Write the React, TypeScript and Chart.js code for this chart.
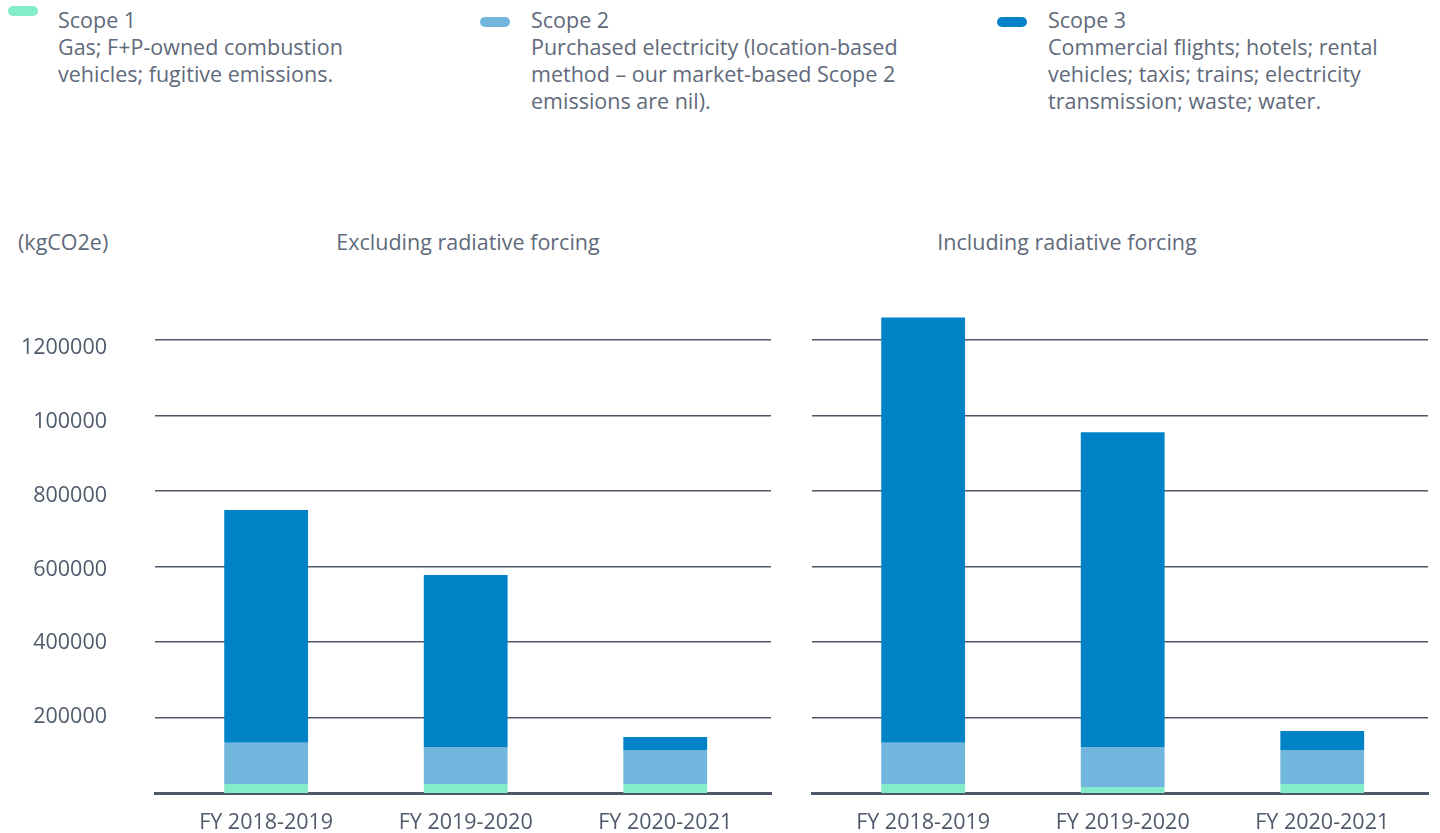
import React, { useEffect, useRef } from "react";
import { Chart, registerables } from "chart.js";

Chart.register(...registerables);

// ---- data ----
const categories = ["FY 2018-2019", "FY 2019-2020", "FY 2020-2021"];
const seriesNames = ["Scope 1", "Scope 2", "Scope 3"];
const seriesDescriptions = [
  ["Gas; F+P-owned combustion", "vehicles; fugitive emissions."],
  ["Purchased electricity (location-based", "method \u2013 our market-based Scope 2", "emissions are nil)."],
  ["Commercial flights; hotels; rental", "vehicles; taxis; trains; electricity", "transmission; waste; water."],
];
const seriesColors = ["#84EBCB", "#72B6DE", "#0082C6"];

const exclScope1 = [24000, 24000, 24000];
const exclScope2 = [109000, 98000, 90000];
const exclScope3 = [616000, 455000, 34000];

const inclScope1 = [24000, 16000, 24000];
const inclScope2 = [109000, 106000, 90000];
const inclScope3 = [1126000, 833000, 50000];

const tickValues = [200000, 400000, 600000, 800000, 1000000, 1200000];
const tickLabels = ["200000", "400000", "600000", "800000", "100000", "1200000"];

const unitLabel = "(kgCO2e)";
const panelTitles = ["Excluding radiative forcing", "Including radiative forcing"];

const FONT = "'Open Sans', 'Noto Sans', sans-serif";
const FS = 21.5;
const TEXT = "#5f6a7b";
const TICK = "#4f5a6c";
const GRID = "#4f5868";

Chart.defaults.font.family = FONT;

function buildConfig(s1: number[], s2: number[], s3: number[], withLabels: boolean, leftWidth: number, rightPad: number): any {
  const scales: any = {
    x: {
      stacked: true,
      grid: { display: false, drawTicks: false },
      border: { display: true, color: GRID, width: 3 },
      ticks: { color: TICK, font: { family: FONT, size: FS, weight: 400 }, padding: 17, maxRotation: 0 },
      afterBuildTicks: (s: any) => {
        s._startValue = -0.557;
        s._valueRange = 3.087;
      },
      afterFit: (s: any) => {
        s.height = 40;
        s.paddingLeft = 0;
        s.paddingRight = 0;
      },
    },
    y: {
      stacked: true,
      min: 0,
      max: 1300000,
      grid: { display: true, color: GRID, lineWidth: 1.5, drawTicks: false },
      border: { display: false },
      ticks: { display: false },
      afterBuildTicks: (s: any) => { s.ticks = tickValues.map((v) => ({ value: v })); },
      afterFit: (s: any) => {
        s.width = withLabels ? 0 : leftWidth;
        s.paddingTop = 0;
        s.paddingBottom = 0;
      },
    },
  };
  if (withLabels) {
    scales.yLabels = {
      position: "left",
      min: -5960,
      max: 1324660,
      grid: { display: false, drawTicks: false },
      border: { display: false },
      ticks: {
        color: TICK,
        font: { family: FONT, size: FS, weight: 400 },
        padding: 48,
        callback: (v: any) => {
          const i = tickValues.indexOf(Number(v));
          return i >= 0 ? tickLabels[i] : "";
        },
      },
      afterBuildTicks: (s: any) => { s.ticks = tickValues.map((v) => ({ value: v })); },
      afterFit: (s: any) => {
        s.width = leftWidth;
        s.paddingTop = 0;
        s.paddingBottom = 0;
      },
    };
  }
  const mk = (label: string, data: number[], color: string) => ({
    label,
    data,
    backgroundColor: color,
    borderWidth: 0,
    categoryPercentage: 1,
    barPercentage: 0.42,
  });
  return {
    type: "bar",
    data: {
      labels: categories,
      datasets: [
        mk(seriesNames[0], s1, seriesColors[0]),
        mk(seriesNames[1], s2, seriesColors[1]),
        mk(seriesNames[2], s3, seriesColors[2]),
      ],
    },
    options: {
      responsive: false,
      animation: false,
      layout: { padding: { top: 12, right: rightPad, left: 0, bottom: 0 } },
      plugins: { legend: { display: false }, tooltip: { enabled: false }, title: { display: false } },
      scales,
    },
  };
}

function Panel(props: { s1: number[]; s2: number[]; s3: number[]; withLabels: boolean; left: number; width: number; leftWidth: number; rightPad: number }) {
  const ref = useRef<HTMLCanvasElement>(null);
  useEffect(() => {
    if (!ref.current) return;
    const chart = new Chart(ref.current, buildConfig(props.s1, props.s2, props.s3, props.withLabels, props.leftWidth, props.rightPad));
    return () => chart.destroy();
  }, []);
  return (
    <canvas
      ref={ref}
      width={props.width}
      height={543}
      style={{ position: "absolute", left: props.left, top: 290, width: props.width, height: 543 }}
    />
  );
}

const legendPos = [
  { markerX: 8, markerY: 6, textX: 58 },
  { markerX: 480, markerY: 17, textX: 531 },
  { markerX: 997, markerY: 17, textX: 1048 },
];

const textStyle: React.CSSProperties = {
  position: "absolute",
  fontSize: FS,
  fontWeight: 400,
  lineHeight: "27px",
  color: TEXT,
  whiteSpace: "nowrap",
};

export default function App() {
  return (
    <div style={{ position: "absolute", left: 0, top: 0, width: 1440, height: 833, background: "#ffffff", fontFamily: FONT, overflow: "hidden" }}>
      {seriesNames.map((name, i) => (
        <React.Fragment key={name}>
          <div
            style={{
              position: "absolute",
              left: legendPos[i].markerX,
              top: legendPos[i].markerY,
              width: 30,
              height: 10,
              borderRadius: 5,
              background: seriesColors[i],
            }}
          />
          <div style={{ ...textStyle, left: legendPos[i].textX, top: 6 }}>
            <div>{name}</div>
            {seriesDescriptions[i].map((line) => (
              <div key={line}>{line}</div>
            ))}
          </div>
        </React.Fragment>
      ))}
      <div style={{ ...textStyle, left: 18, top: 228 }}>{unitLabel}</div>
      <div style={{ ...textStyle, left: 468 - 200, width: 400, textAlign: "center", top: 228 }}>{panelTitles[0]}</div>
      <div style={{ ...textStyle, left: 1067 - 200, width: 400, textAlign: "center", top: 228 }}>{panelTitles[1]}</div>
      <Panel s1={exclScope1} s2={exclScope2} s3={exclScope3} withLabels={true} left={0} width={790} leftWidth={155} rightPad={19} />
      <Panel s1={inclScope1} s2={inclScope2} s3={inclScope3} withLabels={false} left={790} width={650} leftWidth={22} rightPad={12} />
    </div>
  );
}
